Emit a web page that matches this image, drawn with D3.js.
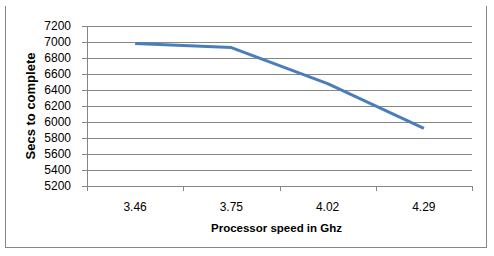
<!DOCTYPE html>
<html lang="en">
<head>
<meta charset="UTF-8">
<title>Secs to complete vs processor speed</title>
<script src="https://cdn.jsdelivr.net/npm/d3@7"></script>
<style>
	body{ margin:0; background:#fff; }
	text{ font-family: "Liberation Sans", Arial, sans-serif; fill:#000; }
	.axis path, .axis line{ stroke:#868686; shape-rendering:crispEdges; }
	.grid line{ stroke:#868686; shape-rendering:crispEdges; }
	.series{ fill:none; stroke:#4a7ebb; stroke-width:3; stroke-linejoin:round; }
</style>
</head>
<body>
<div id="chart"></div>
<script>
// data
var speeds = ["3.46", "3.75", "4.02", "4.29"];
var secs = [6980, 6930, 6480, 5920];
var yTicks = [5200, 5400, 5600, 5800, 6000, 6200, 6400, 6600, 6800, 7000, 7200];

var width = 494, height = 256,
	margin = {left:87, top:26, right:22, bottom:70};

var svg = d3.select("#chart").append("svg")
	.attr("width", width)
	.attr("height", height);

// outer frame (no top edge visible in the original)
svg.append("path")
	.attr("d", "M5.5,6V247.5H486.5V6")
	.attr("fill", "none")
	.attr("stroke", "#868686")
	.attr("shape-rendering", "crispEdges");

var x = d3.scaleBand()
	.domain(speeds)
	.range([margin.left, width - margin.right]);

var y = d3.scaleLinear()
	.domain([5200, 7200])
	.range([height - margin.bottom, margin.top]);

// gridlines
svg.append("g")
	.attr("class", "grid")
	.selectAll("line")
	.data(yTicks.slice(1))
	.enter().append("line")
	.attr("x1", margin.left)
	.attr("x2", width - margin.right)
	.attr("y1", function(d){ return Math.round(y(d)) + 0.5; })
	.attr("y2", function(d){ return Math.round(y(d)) + 0.5; });

var yAx = d3.axisLeft(y)
	.tickValues(yTicks)
	.tickFormat(d3.format("d"))
	.tickSize(5)
	.tickPadding(11)
	.tickSizeOuter(0);

var yAxis = svg.append("g")
	.attr("class", "y axis")
	.attr("transform", "translate(" + margin.left + ",0)")
	.call(yAx);
yAxis.selectAll("text").style("font-size", "12px");

// x axis: ticks sit on the category boundaries
var xAxis = svg.append("g")
	.attr("class", "x axis")
	.attr("transform", "translate(0," + (height - margin.bottom) + ")");

xAxis.append("line")
	.attr("x1", margin.left)
	.attr("x2", width - margin.right);

xAxis.selectAll("line.tk")
	.data(speeds.concat(["end"]))
	.enter().append("line")
	.attr("class", "tk")
	.attr("x1", function(d, i){ return Math.round(margin.left + i * x.step()) + 0.5; })
	.attr("x2", function(d, i){ return Math.round(margin.left + i * x.step()) + 0.5; })
	.attr("y1", 0)
	.attr("y2", 5);

xAxis.selectAll("text")
	.data(speeds)
	.enter().append("text")
	.attr("x", function(d){ return x(d) + x.bandwidth() / 2; })
	.attr("y", 25)
	.attr("text-anchor", "middle")
	.style("font-size", "12px")
	.text(function(d){ return d; });

// series
var line = d3.line()
	.x(function(d, i){ return x(speeds[i]) + x.bandwidth() / 2; })
	.y(function(d){ return y(d); });

svg.append("path")
	.datum(secs)
	.attr("class", "series")
	.attr("d", line);

// axis titles
svg.append("text")
	.attr("x", (margin.left + width - margin.right) / 2 - 3)
	.attr("y", 232)
	.attr("text-anchor", "middle")
	.style("font-size", "11.5px")
	.style("font-weight", "bold")
	.text("Processor speed in Ghz");

svg.append("text")
	.attr("transform", "translate(35," + (height - margin.bottom + margin.top) / 2 + ") rotate(-90)")
	.attr("text-anchor", "middle")
	.style("font-size", "13px")
	.style("font-weight", "bold")
	.text("Secs to complete");
</script>
</body>
</html>
